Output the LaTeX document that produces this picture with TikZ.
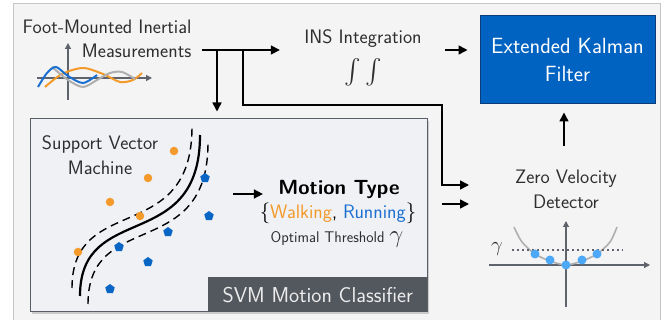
\documentclass[tikz,border=0pt]{standalone}
\usepackage{fontspec}
\usepackage{amsmath}
\usepackage{tikz}
\usetikzlibrary{arrows.meta,shapes.geometric,shadows}

\definecolor{bgfill}{HTML}{F4F4F4}
\definecolor{framecol}{HTML}{C6C6C6}
\definecolor{svmfill}{HTML}{EFF1F5}
\definecolor{svmdraw}{HTML}{5A5E66}
\definecolor{labfill}{HTML}{53575E}
\definecolor{labtext}{HTML}{ECECEC}
\definecolor{ekfblue}{HTML}{0062C1}
\definecolor{ekfdraw}{HTML}{0A3D7A}
\definecolor{walkor}{HTML}{F39A2B}
\definecolor{runbl}{HTML}{1A6FD1}
\definecolor{pentbl}{HTML}{0A66C4}
\definecolor{ltblue}{HTML}{4DA8F8}
\definecolor{axgray}{HTML}{5F636B}
\definecolor{crvgray}{HTML}{AFAFAF}
\definecolor{txtgray}{HTML}{2E2E2E}

\begin{document}
\begin{tikzpicture}[x=1pt,y=-1pt,
  font=\sffamily\fontsize{19.5}{25}\selectfont, text=txtgray,
  arr/.style={-{Triangle[length=9pt,width=9pt]}, line width=1.6pt},
  axarr/.style={-{Triangle[length=6pt,width=6pt]}, line width=1.2pt, axgray},
  wave/.style={line width=2pt},
  odot/.style={circle, fill=walkor, inner sep=0pt, minimum size=8.5pt},
  bpent/.style={regular polygon, regular polygon sides=5, fill=pentbl, inner sep=0pt, minimum size=10pt},
  zdot/.style={circle, fill=ltblue, inner sep=0pt, minimum size=9pt},
  svmbox/.style={draw=svmdraw, fill=svmfill, line width=1pt,
    drop shadow={opacity=0.35, shadow xshift=2pt, shadow yshift=-2pt}},
  svmlab/.style={fill=labfill, text=labtext, font=\sffamily\fontsize{21.5}{24}\selectfont},
  ekfbox/.style={draw=ekfdraw, fill=ekfblue, line width=1pt, text=white, align=center,
    font=\sffamily\fontsize{22}{28}\selectfont}]

\useasboundingbox (0,0) rectangle (665,320);

% background panel, open at the bottom
\fill[bgfill] (13,4) rectangle (660,320);
\draw[framecol, line width=1pt] (13,320) -- (13,4) -- (660,4) -- (660,320);

% inertial measurements
\node[anchor=east] (imu) at (195,27) {Foot-Mounted Inertial};
\node[anchor=east] (meas) at (195,51) {Measurements};

\draw[axarr] (68,100) -- (68,43);
\draw[axarr] (37,78) -- (152,78);
\draw[wave, walkor] plot[smooth] coordinates {(45,87) (62,74) (83,68) (103,74) (120,82) (133,80) (142,73)};
\draw[wave, crvgray] plot[smooth] coordinates {(52,67) (68,80) (83,87) (97,80) (110,73) (122,72) (135,79)};
\draw[wave, runbl] plot[smooth] coordinates {(38,87) (47,73) (56,67) (68,76) (83,83) (97,75)};

% INS and EKF
\node[align=center, anchor=north] (ins) at (363,26.5) {INS Integration\\[10pt]{\fontsize{26}{26}\selectfont$\int\int$}};
\node[ekfbox, minimum width=175pt, minimum height=88pt] (ekf) at (567.5,60) {Extended Kalman\\Filter};

% SVM classifier
\node[svmbox, minimum width=397pt, minimum height=193pt] (svm) at (228.5,215.5) {};
\node[svmlab, anchor=south east, minimum width=219pt, minimum height=35pt, inner sep=0pt] (svmlab) at (svm.south east) {SVM Motion Classifier};
\node[align=center] (svmtxt) at (100,155) {Support Vector\\Machine};

\draw[line width=2.2pt] (80,296) .. controls (80,200) and (200,255) .. (200,135);
\draw[line width=1.4pt, dash pattern=on 8pt off 5pt, shift={(-8,-8)}] (80,296) .. controls (80,200) and (200,255) .. (200,135);
\draw[line width=1.4pt, dash pattern=on 8pt off 5pt, shift={(8,8)}] (80,296) .. controls (80,200) and (200,255) .. (200,135);

\foreach \p [count=\i] in {(174,151),(148,178),(110,202),(140,216),(78,252)}
  \node[odot] (o\i) at \p {};
\foreach \p [count=\i] in {(205,178),(209,216),(168,232),(119,247),(148,262),(110,289)}
  \node[bpent] (b\i) at \p {};

\node[font=\sffamily\bfseries\fontsize{20.5}{24}\selectfont, text=black] (mt) at (339,189) {Motion Type};
\node[text=black] (mc) at (338,213) {$\{$\textcolor{walkor}{Walking}, \textcolor{runbl}{Running}$\}$};
\node[font=\sffamily\fontsize{15.5}{16}\selectfont] (thr) at (337,239) {Optimal Threshold {\fontsize{26}{26}\selectfont$\gamma$}};

% zero velocity detector
\node[align=center] (zvd) at (566,189.5) {Zero Velocity\\Detector};
\coordinate (zo) at (566,265);
\draw[axarr] (566,307) -- (566,221);
\draw[axarr] (489,265) -- (650,265);
\draw[crvgray, line width=1.6pt] plot[smooth] coordinates {(514,227) (522,242) (535,254) (550,261) (566,265) (582,261) (597,254) (610,242) (617,227)};
\draw[axgray, line width=2.4pt, dash pattern=on 2.4pt off 2.6pt] (512,250) -- (623,250);
\node[font=\fontsize{22}{22}\selectfont] (gam) at (497,249) {$\gamma$};
\foreach \p [count=\i] in {(535,254),(550,260),(566,265),(582,260),(597,254)}
  \node[zdot] (z\i) at \p {};

% connectors
\coordinate (tap) at (202,50);
\coordinate (b1) at (217,50);
\coordinate (b2) at (243,50);
\coordinate (turn) at (442,105);
\coordinate (zin) at (469,185);
\coordinate (gin) at (469,204);

\draw[arr, shorten >=21pt] (tap) -- (tap -| ins.west);
\draw[arr, shorten <=20pt, shorten >=12pt] (ins.east |- tap) -- (tap -| ekf.west);
\draw[arr, shorten >=7pt] (b1) -- (b1 |- svm.north);
\draw[arr] (b2) |- (turn) |- (zin);
\draw[arr] (gin -| turn) -- (gin);
\draw[arr, shorten >=12pt] (233,194) -- (mt.west |- 0,194);
\draw[arr, shorten <=21pt, shorten >=8pt] (564,0 |- zvd.north) -- (564,0 |- ekf.south);

\end{tikzpicture}
\end{document}
